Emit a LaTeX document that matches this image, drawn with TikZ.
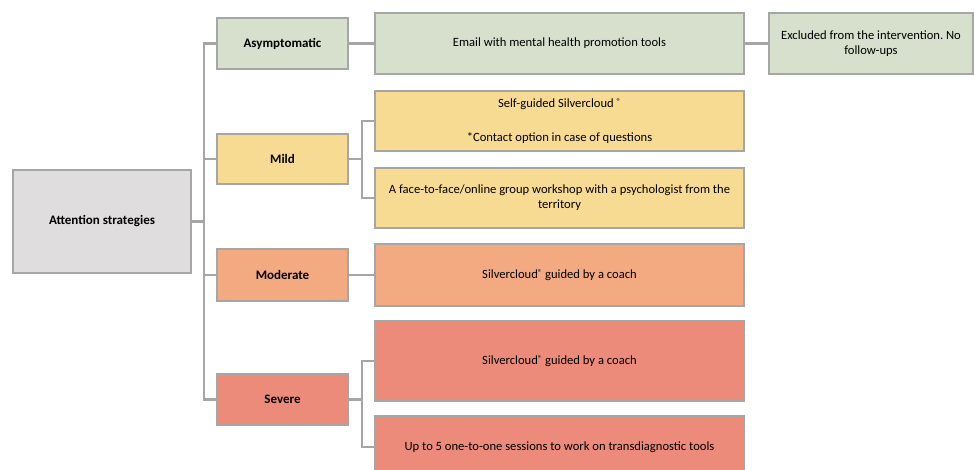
\documentclass[tikz,border=0pt]{standalone}
\usepackage{fontspec}
\setmainfont{Carlito}
\definecolor{bord}{HTML}{A6A6A6}
\definecolor{cgreen}{HTML}{D6E0CC}
\definecolor{cyellow}{HTML}{F8DB93}
\definecolor{corange}{HTML}{F3AA80}
\definecolor{cred}{HTML}{ED8B7A}
\definecolor{cgray}{HTML}{DFDDDE}
\newcommand{\regmark}{\raisebox{0.5ex}{\fontsize{8.5}{8.5}\selectfont ®}}
\hyphenpenalty=10000
\exhyphenpenalty=10000
\frenchspacing
\tikzset{
  box/.style={draw=bord, line width=2.4pt, inner sep=2pt, align=center,
    font=\fontsize{12.6}{15}\selectfont},
  boldbox/.style={box, font=\fontsize{13}{15}\selectfont\bfseries},
  lvlone/.style={boldbox, minimum width=131pt},
  lvltwo/.style={box, minimum width=369pt},
  conn/.style={draw=bord, line width=2.6pt},
  subconn/.style={draw=bord, line width=1.8pt},
}
\begin{document}
\begin{tikzpicture}[x=1pt,y=-1pt]
\clip (0,0) rectangle (974,470);
\fill[white] (0,0) rectangle (974,470);
% root
\node[boldbox, fill=cgray, minimum width=178pt, minimum height=103pt] (root) at (102,221.5) {Attention strategies};
% level one
\node[lvlone, fill=cgreen, minimum height=51pt] (asym) at (282.5,43.5) {Asymptomatic};
\node[lvlone, fill=cyellow, minimum height=50pt] (mild) at (282.5,159) {Mild};
\node[lvlone, fill=corange, minimum height=52pt] (mod) at (282.5,275) {Moderate};
\node[lvlone, fill=cred, minimum height=51pt] (sev) at (282.5,399.5) {Severe};
% level two
\node[lvltwo, fill=cgreen, minimum height=61pt] (email) at (559.5,43.5) {Email with mental health promotion tools};
\node[lvltwo, fill=cyellow, minimum height=60pt] (selfg) at (559.5,121) {Self-guided Silvercloud \regmark\\[19pt]*Contact option in case of questions};
\node[lvltwo, fill=cyellow, minimum height=60pt] (ftf) at (559.5,198) {A face-to-face/online group workshop with a psychologist from the\\territory};
\node[lvltwo, fill=corange, minimum height=62pt] (modsub) at (559.5,275) {Silvercloud\regmark{} guided by a coach};
\node[lvltwo, fill=cred, minimum height=80pt] (sevone) at (559.5,361) {Silvercloud\regmark{} guided by a coach};
\node[lvltwo, fill=cred, minimum height=62pt] (sevtwo) at (559.5,447) {Up to 5 one-to-one sessions to work on transdiagnostic tools};
% level three
\node[box, fill=cgreen, minimum width=204pt, minimum height=61pt] (excl) at (871,43.5) {Excluded from the intervention. No\\follow-ups};
% trunk coordinates
\coordinate (t) at (204,0);
\coordinate (m) at (362,0);
% main connectors
\draw[conn] (root.east) -- (root.east -| t);
\draw[conn] (asym.west) -- (asym.west -| t) -- (sev.west -| t) -- (sev.west);
\draw[conn] (mild.west) -- (mild.west -| t);
\draw[conn] (mod.west) -- (mod.west -| t);
\draw[conn] (asym.east) -- (email.west);
\draw[conn] (email.east) -- (excl.west);
\draw[conn] (mod.east) -- (modsub.west);
% mild sub branches
\draw[conn] (mild.east) -- (mild.east -| m);
\draw[subconn] (selfg.west) -- (selfg.west -| m) -- (ftf.west -| m) -- (ftf.west);
% severe sub branches
\draw[conn] (sev.east) -- (sev.east -| m);
\draw[subconn] (sevone.west) -- (sevone.west -| m) -- (sevtwo.west -| m) -- (sevtwo.west);
\end{tikzpicture}
\end{document}
